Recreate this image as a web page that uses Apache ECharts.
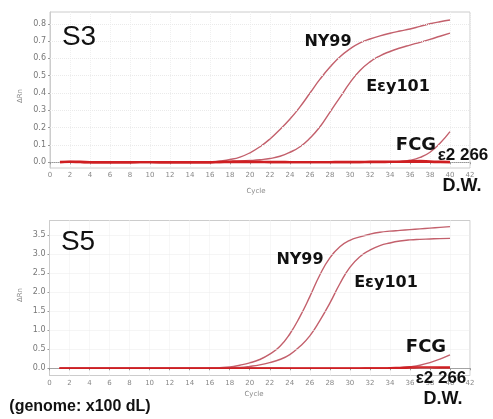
<!DOCTYPE html>
<html>
<head>
<meta charset="utf-8">
<script src="https://cdn.jsdelivr.net/npm/echarts@6/dist/echarts.min.js"></script>
<style>
html,body{margin:0;padding:0;background:#fff;}
#c{width:493px;height:419px;}
</style>
</head>
<body>
<div id="c"></div>
<script>
// ---- data ----
const cycles = [1,2,3,4,5,6,7,8,9,10,11,12,13,14,15,16,17,18,19,20,21,22,23,24,25,26,27,28,29,30,31,32,33,34,35,36,37,38,39,40];
const xTicks = [0,2,4,6,8,10,12,14,16,18,20,22,24,26,28,30,32,34,36,38,40,42];
const s3Ticks = [0,0.1,0.2,0.3,0.4,0.5,0.6,0.7,0.8];
const s5Ticks = [0,0.5,1.0,1.5,2.0,2.5,3.0,3.5];

// S3 panel
const s3_NY99   = [0,0.004,0.002,0,0,0,0,0,0,0,0,0,0,0,0,0.003,0.008,0.016,0.03,0.055,0.09,0.135,0.19,0.25,0.32,0.40,0.48,0.55,0.61,0.655,0.69,0.712,0.73,0.745,0.758,0.77,0.785,0.80,0.812,0.822];
const s3_Egy101 = [0,0.005,0.002,0,0,0,0,0,0,0,0,0,0,0,0,0,0,0.003,0.006,0.01,0.015,0.022,0.035,0.058,0.09,0.14,0.205,0.29,0.375,0.46,0.53,0.58,0.615,0.64,0.66,0.677,0.693,0.71,0.728,0.746];
const s3_FCG    = [0,0.003,0.001,0,0,0,0,0,0,0,0,0,0,0,0,0,0.002,0.003,0.003,0.002,0.002,0.001,0.001,0.001,0.001,0.001,0.001,0.001,0.002,0.002,0.002,0.002,0.002,0.003,0.005,0.012,0.028,0.058,0.11,0.177];
const s3_E2266  = [0.002,0.004,0.003,0.001,0,0,0,0,0.001,0.001,0,0,0,0,0,0,0.002,0.004,0.005,0.004,0.003,0.002,0.002,0.001,0.001,0.001,0.001,0.001,0.002,0.002,0.002,0.003,0.003,0.003,0.004,0.006,0.007,0.005,0.003,0.002];
const s3_DW     = [0,0.001,0,-0.001,-0.001,-0.001,-0.001,-0.001,0,0,-0.001,-0.001,-0.001,-0.001,-0.001,-0.001,0,0,0,0,0,0,0,0,0,0,0,0,0,0,0,0,0,0.001,0.001,0.002,0.002,0.001,0,0];

// S5 panel
const s5_NY99   = [0,0,0,0,0,0,0,0,0,0,0,0,0,0,0,0.005,0.015,0.035,0.08,0.14,0.23,0.37,0.57,0.9,1.35,1.88,2.45,2.9,3.19,3.36,3.45,3.52,3.57,3.60,3.62,3.64,3.66,3.68,3.70,3.72];
const s5_Egy101 = [0,0,0,0,0,0,0,0,0,0,0,0,0,0,0,0,0,0.005,0.02,0.05,0.09,0.15,0.23,0.36,0.57,0.85,1.25,1.71,2.22,2.65,2.93,3.10,3.22,3.29,3.34,3.37,3.385,3.395,3.405,3.41];
const s5_FCG    = [0,0,0,0,0,0,0,0,0,0,0,0,0,0,0,0,0,0.005,0.01,0.01,0.01,0.005,0.005,0,0,0,0,0,0,0,0,0,0,0.005,0.015,0.04,0.08,0.15,0.24,0.35];
const s5_E2266  = [0,0,0,0,0,0,0,0,0,0,0,0,0,0,0,0,0,0,0,0,0,0,0,0,0,0,0,0,0,0,0,0.005,0.005,0.01,0.02,0.03,0.035,0.035,0.03,0.03];
const s5_DW     = [0,0,0,0,0,0,0,0,0,0,0,0,0,0,0,0,0,0,0,0,0,0,0,0,0,0,0,0,0,0,0,0,0,0,0,0.005,0.01,0.01,0.005,0.005];

// ---- chart ----
const pair = arr => cycles.map((c,i)=>[c,arr[i]]);
const curveColor = '#c3606c';
const baseColor = '#cf1f22';

function xAxisDef(gi){
  return {
    type:'value', gridIndex:gi, min:0, max:42, interval:2,
    axisLabel:{fontSize:7, color:'#888', margin:4, fontFamily:'DejaVu Sans', hideOverlap:false},
    axisTick:{show:true, length:2, lineStyle:{color:'#999'}},
    axisLine:{show:true, lineStyle:{color:'#999', type:'dotted'}},
    splitLine:{show:true, lineStyle:{color:'#f0f0f0', type:'dotted'}}
  };
}
function yAxisDef(gi, min, max, ticks){
  return {
    type:'value', gridIndex:gi, min:min, max:max,
    axisLabel:{customValues:ticks, formatter:v=>Number(v).toFixed(1), fontSize:8, color:'#777', margin:4, fontFamily:'DejaVu Sans'},
    axisTick:{show:true, customValues:ticks, length:2, lineStyle:{color:'#999'}},
    axisLine:{show:true, lineStyle:{color:'#ccc'}},
    splitLine:{show:false}
  };
}
function line(name, arr, gi, color, width, z){
  return {
    name:name, type:'line', xAxisIndex:gi, yAxisIndex:gi, data:pair(arr),
    smooth:true, showSymbol:false, symbol:'none', silent:true, z:z,
    lineStyle:{color:color, width:width}
  };
}
function gridMark(gi, ticks){
  return {
    type:'line', xAxisIndex:gi, yAxisIndex:gi, data:[], silent:true,
    markLine:{silent:true, symbol:'none', label:{show:false},
      lineStyle:{color:'#eaeaea', type:'dotted', width:1},
      data:ticks.filter(t=>t!==0).map(t=>({yAxis:t}))}
  };
}

const series = [
  gridMark(0, s3Ticks),
  line('NY99', s3_NY99, 0, curveColor, 1.4, 3),
  line('Egy101', s3_Egy101, 0, curveColor, 1.4, 3),
  line('FCG', s3_FCG, 0, curveColor, 1.4, 3),
  line('E2266', s3_E2266, 0, baseColor, 2.4, 4),
  line('D.W.', s3_DW, 0, baseColor, 2.0, 4),
  gridMark(1, s5Ticks),
  line('NY99', s5_NY99, 1, curveColor, 1.4, 3),
  line('Egy101', s5_Egy101, 1, curveColor, 1.4, 3),
  line('FCG', s5_FCG, 1, curveColor, 1.4, 3),
  line('E2266', s5_E2266, 1, baseColor, 1.6, 4),
  line('D.W.', s5_DW, 1, baseColor, 1.4, 4)
];

function txt(x, y, text, size, family, weight, color, rot){
  return {type:'text', x:x, y:y, rotation:rot||0, z:100,
    style:{text:text, fontSize:size, fontFamily:family, fontWeight:weight, fill:color,
      align:'center', verticalAlign:'middle', textAlign:'center', textVerticalAlign:'middle'}};
}
const B = 'DejaVu Sans', L = 'Liberation Sans';
const graphic = [
  txt(79, 37, 'S3', 28, L, 'normal', '#111'),
  txt(328, 42, 'NY99', 16, B, 'bold', '#111'),
  txt(398, 87, 'Eεy101', 16, B, 'bold', '#111'),
  txt(416, 145, 'FCG', 18, B, 'bold', '#111'),
  txt(463, 155, 'ε2 266', 17, L, 'bold', '#111'),
  txt(462, 186, 'D.W.', 18, L, 'bold', '#111'),
  txt(256, 191, 'Cycle', 7, B, 'normal', '#888'),
  txt(20, 96, 'ΔRn', 7, B, 'normal', '#888', Math.PI/2),
  txt(78, 242, 'S5', 28, L, 'normal', '#111'),
  txt(300, 260, 'NY99', 16, B, 'bold', '#111'),
  txt(386, 283, 'Eεy101', 16, B, 'bold', '#111'),
  txt(426, 347, 'FCG', 18, B, 'bold', '#111'),
  txt(441, 378, 'ε2 266', 17, L, 'bold', '#111'),
  txt(443, 399, 'D.W.', 18, L, 'bold', '#111'),
  txt(254, 394, 'Cycle', 7, B, 'normal', '#888'),
  txt(20, 295, 'ΔRn', 7, B, 'normal', '#888', Math.PI/2),
  txt(80, 407, '(genome: x100 dL)', 16, L, 'bold', '#111')
];

const chart = echarts.init(document.getElementById('c'), null, {renderer:'canvas'});
chart.setOption({
  animation:false,
  backgroundColor:'#fff',
  grid:[
    {left:50, top:12, width:420, height:156, show:true, borderColor:'#ccc', borderWidth:1, backgroundColor:'transparent'},
    {left:49.5, top:220.5, width:420.5, height:155, show:true, borderColor:'#ccc', borderWidth:1, backgroundColor:'transparent'}
  ],
  xAxis:[xAxisDef(0), xAxisDef(1)],
  yAxis:[yAxisDef(0, -0.033, 0.868, s3Ticks), yAxisDef(1, -0.19, 3.88, s5Ticks)],
  series:series,
  graphic:graphic
});
</script>
</body>
</html>
